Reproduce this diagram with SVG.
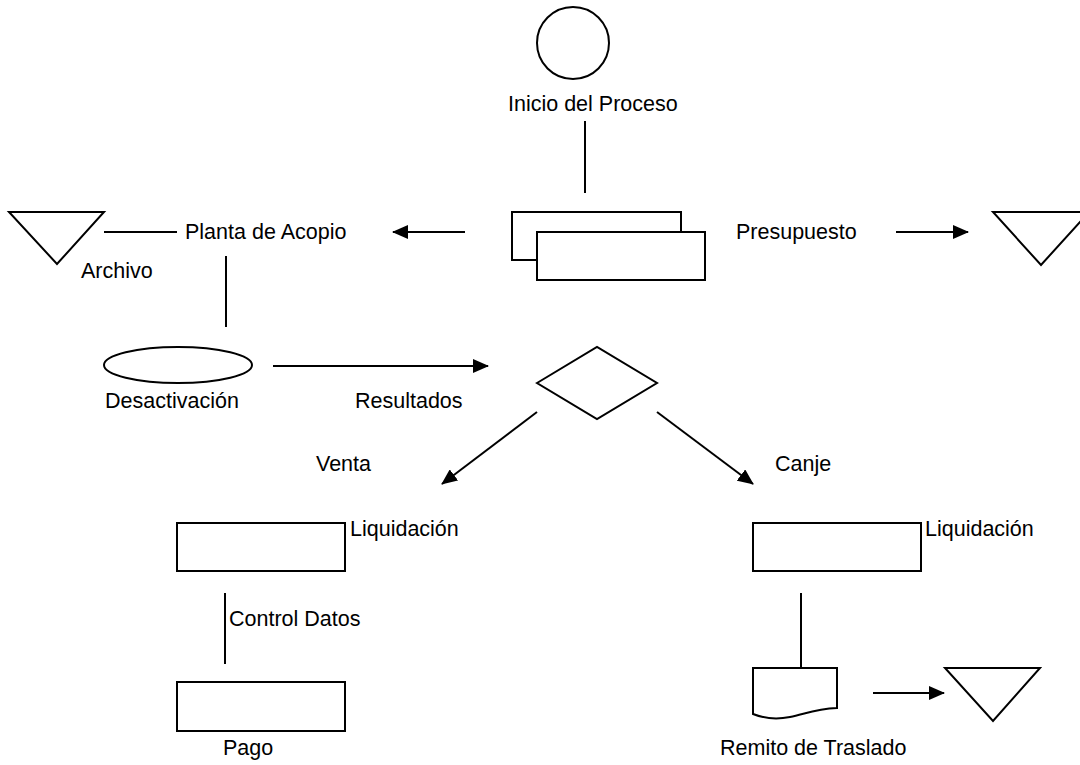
<svg xmlns="http://www.w3.org/2000/svg" width="1080" height="765" viewBox="0 0 1080 765">
  <defs>
    <marker id="arrow" markerUnits="userSpaceOnUse" markerWidth="16" markerHeight="14" refX="15" refY="7" orient="auto">
      <path d="M0,0 L16,7 L0,14 Z" fill="#000"/>
    </marker>
    <style>
      .shape { fill: #fff; stroke: #000; stroke-width: 2; }
      .line { fill: none; stroke: #000; stroke-width: 2; }
      .arr { fill: none; stroke: #000; stroke-width: 2; marker-end: url(#arrow); }
      .lbl { font-family: "Liberation Sans", Arial, sans-serif; font-size: 21.5px; fill: #000; }
    </style>
  </defs>
  <rect width="1080" height="765" fill="#fff"/>

  <!-- Start of the process -->
  <g id="inicio">
    <circle class="shape" cx="573" cy="43" r="36"/>
    <text class="lbl" x="508" y="111">Inicio del Proceso</text>
  </g>

  <!-- Budget: stacked documents -->
  <g id="presupuesto">
    <rect class="shape" x="512" y="212" width="169" height="48"/>
    <rect class="shape" x="537" y="232" width="168" height="48"/>
    <text class="lbl" x="736" y="239">Presupuesto</text>
  </g>

  <g id="archivo-presupuesto">
    <polygon class="shape" points="993,212 1089,212 1041,265"/>
  </g>

  <g id="planta">
    <text class="lbl" x="185" y="239">Planta de Acopio</text>
  </g>

  <g id="archivo">
    <polygon class="shape" points="9,212 104,212 57,264"/>
    <text class="lbl" x="81" y="278">Archivo</text>
  </g>

  <g id="desactivacion">
    <ellipse class="shape" cx="178" cy="365" rx="74" ry="18"/>
    <text class="lbl" x="105" y="408">Desactivación</text>
  </g>

  <g id="resultados">
    <polygon class="shape" points="537,383 597,347 657,383 597,419"/>
    <text class="lbl" x="355" y="408">Resultados</text>
  </g>

  <g id="venta">
    <text class="lbl" x="316" y="471">Venta</text>
    <rect class="shape" x="177" y="523" width="168" height="48"/>
    <text class="lbl" x="350" y="536">Liquidación</text>
  </g>

  <g id="pago">
    <rect class="shape" x="177" y="682" width="168" height="49"/>
    <text class="lbl" x="223" y="755">Pago</text>
  </g>

  <g id="canje">
    <text class="lbl" x="775" y="471">Canje</text>
    <rect class="shape" x="753" y="523" width="168" height="48"/>
    <text class="lbl" x="925" y="536">Liquidación</text>
  </g>

  <g id="remito">
    <path class="shape" d="M753,668 L837,668 L837,708 C815,709 805,714 790,717 C775,720 763,718 753,714 Z"/>
    <text class="lbl" x="720" y="755">Remito de Traslado</text>
  </g>

  <g id="archivo-remito">
    <polygon class="shape" points="945,668 1040,668 993,721"/>
  </g>

  <!-- Connectors -->
  <g id="connectors">
    <line class="line" x1="585" y1="121" x2="585" y2="193"/>
    <line class="arr" x1="465" y1="232" x2="393" y2="232"/>
    <line class="arr" x1="896" y1="232" x2="968" y2="232"/>
    <line class="line" x1="104" y1="232" x2="177" y2="232"/>
    <line class="line" x1="226" y1="256" x2="226" y2="327"/>
    <line class="arr" x1="273" y1="366" x2="488" y2="366"/>
    <line class="arr" x1="537" y1="412" x2="442" y2="484"/>
    <line class="arr" x1="657" y1="412" x2="753" y2="484"/>
    <line class="line" x1="225" y1="593" x2="225" y2="664"/>
    <text class="lbl" x="229" y="626">Control Datos</text>
    <line class="line" x1="801" y1="593" x2="801" y2="668"/>
    <line class="arr" x1="873" y1="693" x2="944" y2="693"/>
  </g>
</svg>
